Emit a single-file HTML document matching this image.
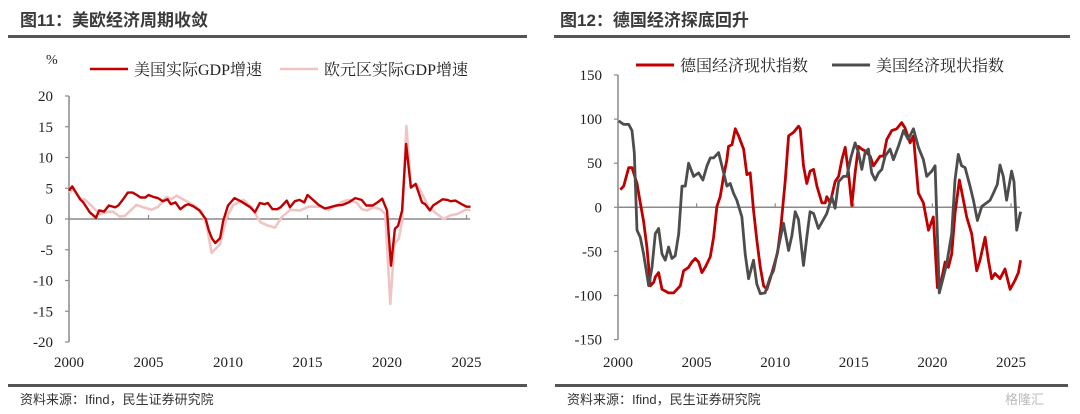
<!DOCTYPE html>
<html><head><meta charset="utf-8">
<style>
html,body{margin:0;padding:0;background:#fff;}
body{width:1080px;height:414px;position:relative;overflow:hidden;font-family:"Liberation Sans","Noto Sans CJK SC",sans-serif;}
.title{position:absolute;top:6px;font-size:17px;font-weight:bold;color:#3a3a3a;font-family:"Liberation Sans","Noto Sans CJK SC",sans-serif;}
.rule{position:absolute;height:3px;background:#555;}
.src{position:absolute;top:389px;font-size:13px;color:#333;}
svg{position:absolute;left:0;top:0;}
svg text{font-family:"Liberation Serif","Noto Serif CJK SC",serif;fill:#222;}
</style></head>
<body>
<div class="title" style="left:20px;">图11：美欧经济周期收敛</div>
<div class="rule" style="left:8px;width:519px;top:35px;"></div>
<div class="title" style="left:560px;">图12：德国经济探底回升</div>
<div class="rule" style="left:554px;width:516px;top:35px;"></div>
<div class="rule" style="left:8px;width:519px;top:384px;"></div>
<div class="rule" style="left:555px;width:513px;top:384px;"></div>
<div class="src" style="left:20px;">资料来源：Ifind，民生证券研究院</div>
<div class="src" style="left:567px;">资料来源：Ifind，民生证券研究院</div>
<div class="src" style="left:1005px;color:#bbb;">格隆汇</div>
<svg id="chart" width="1080" height="414"></svg>
<script>
const usGdpYears=[0,0.2,0.7,0.9,1.3,1.7,1.9,2.2,2.5,2.9,3.1,3.4,3.7,4.0,4.2,4.5,4.8,5.0,5.3,5.6,5.9,6.2,6.4,6.7,7.0,7.3,7.5,7.8,8.2,8.6,8.8,9.0,9.2,9.5,9.7,10.0,10.4,10.8,11.1,11.4,11.7,12.0,12.3,12.5,12.8,13.1,13.3,13.7,13.9,14.2,14.5,14.8,15.0,15.4,15.7,16.1,16.4,16.8,17.2,17.6,18.0,18.4,18.7,19.1,19.4,19.7,20.0,20.25,20.5,20.7,20.95,21.2,21.5,21.8,22.2,22.4,22.7,22.9,23.5,23.8,24.0,24.3,24.7,25.0,25.25];
const usGdp=[4.6,5.3,3.2,2.7,1.1,0.2,1.4,1.2,2.2,1.9,2.2,3.2,4.3,4.3,4.0,3.5,3.5,3.9,3.6,3.4,2.9,3.2,2.4,2.7,1.6,2.2,2.4,2.1,1.4,0,-1.9,-3.2,-3.9,-3.1,-0.3,2.2,3.4,2.9,2.4,1.9,1.1,2.6,2.4,2.6,1.6,1.6,1.9,3.0,1.9,2.9,3.1,2.7,3.9,3.0,2.3,1.7,1.9,2.2,2.3,2.7,3.4,3.1,2.2,2.2,2.7,3.3,1.4,-7.6,-1.6,-1.1,1.4,12.2,5.1,5.7,2.7,2.4,1.4,2.2,3.2,3.1,2.9,3.0,2.4,2.0,2.0];
const euGdpYears=[0,0.29,0.78,0.99,1.51,1.93,2.35,2.77,3.19,3.51,4.24,4.66,5.19,5.61,6.13,6.45,6.76,7.39,7.92,8.34,8.66,8.97,9.5,9.92,10.34,10.97,11.49,12.02,12.44,12.96,13.38,13.91,14.54,15.06,15.8,16.32,16.85,17.27,17.69,18.11,18.42,18.74,19.16,19.58,19.89,20.21,20.46,20.74,20.95,21.22,21.51,21.89,22.21,22.63,23.15,23.57,23.99,24.41,24.94,25.25];
const euGdp=[4.3,4.8,3.1,3.2,1.9,0.8,1.1,1.2,0.4,0.5,2.3,1.9,1.5,2.0,3.6,3.2,3.8,2.9,2.1,1.2,-1.1,-5.5,-4.1,0.3,2.3,3.1,1.9,-0.5,-1.0,-1.4,0.3,1.5,1.4,2.0,2.0,1.5,2.2,2.9,3.1,2.6,1.6,1.4,1.9,1.6,0.8,-13.8,-4.1,-3.2,-0.3,15.1,5.1,5.6,4.1,1.9,0.8,0,0.6,0.8,1.5,1.5];
const leftYTicks=[20,15,10,5,0,-5,-10,-15,-20];
const xTickYears=[2000,2005,2010,2015,2020,2025];
const deYears=[0.15,0.36,0.68,0.89,1.21,1.42,1.63,1.84,2.06,2.27,2.37,2.58,2.80,3.22,3.54,3.75,3.96,4.17,4.49,4.70,4.92,5.13,5.34,5.55,5.87,6.08,6.29,6.50,6.72,6.93,7.03,7.25,7.46,7.67,7.99,8.20,8.41,8.62,8.83,9.05,9.26,9.47,9.68,9.89,10.15,10.36,10.64,10.85,11.17,11.48,11.59,11.80,12.01,12.22,12.44,12.65,12.97,13.18,13.28,13.50,13.81,14.03,14.24,14.45,14.66,14.87,15.08,15.30,15.51,15.72,16.04,16.25,16.67,16.89,17.10,17.42,17.73,18.05,18.26,18.58,18.79,19.11,19.43,19.75,20.06,20.32,20.59,20.81,21.02,21.23,21.44,21.72,21.97,22.18,22.50,22.82,23.03,23.35,23.56,23.77,23.98,24.30,24.62,24.94,25.25,25.47,25.61];
const deIndex=[20,24,45,45,27,5,-16,-45,-89,-85,-79,-74,-93,-97,-97,-93,-89,-72,-68,-62,-58,-62,-74,-68,-56,-34,1,12,35,54,69,71,89,81,66,37,39,-3,-37,-68,-89,-93,-81,-68,-51,-22,31,81,85,92,89,47,27,41,43,24,5,5,12,5,29,35,54,68,39,2,39,69,66,64,58,47,58,58,77,87,89,96,90,73,81,16,5,-26,-11,-91,-81,-62,-68,-53,-7,31,8,-11,-30,-72,-60,-34,-60,-81,-75,-81,-70,-93,-83,-74,-60];
const usIdxYears=[0.04,0.36,0.68,0.89,1.04,1.21,1.42,1.63,1.95,2.16,2.37,2.58,2.80,3.01,3.22,3.43,3.64,3.86,4.07,4.28,4.49,4.81,5.13,5.40,5.66,5.87,6.08,6.40,6.61,6.93,7.14,7.35,7.56,7.88,8.09,8.31,8.62,8.83,9.05,9.36,9.68,9.89,10.21,10.53,10.85,11.06,11.27,11.48,11.80,12.01,12.22,12.44,12.75,13.28,13.60,13.81,14.03,14.34,14.56,14.81,15.08,15.30,15.51,15.72,15.93,16.14,16.36,16.57,16.78,16.99,17.31,17.52,17.84,18.16,18.47,18.79,19.11,19.43,19.64,19.96,20.17,20.44,20.70,20.91,21.23,21.44,21.65,21.86,22.08,22.39,22.61,22.86,23.14,23.45,23.67,23.88,24.13,24.30,24.51,24.72,25.04,25.19,25.36,25.61];
const usIndex=[98,94,94,87,62,-26,-34,-53,-89,-68,-30,-24,-53,-60,-45,-58,-55,-30,24,24,50,35,39,31,47,56,56,62,47,24,27,16,8,-11,-53,-81,-60,-87,-98,-97,-79,-72,-45,-18,-49,-32,-5,-14,-66,-34,-5,-7,-24,-7,12,-1,29,35,35,56,73,62,43,62,66,39,31,39,43,58,66,54,69,87,77,89,68,54,35,41,47,-97,-79,-64,-30,31,60,47,45,24,8,-15,1,5,8,16,26,48,35,8,41,29,-26,-5];
const rightYTicks=[150,100,50,0,-50,-100,-150];

const svg=document.getElementById('chart');
const NS='http://www.w3.org/2000/svg';
function mk(tag,attrs){const e=document.createElementNS(NS,tag);for(const k in attrs)e.setAttribute(k,attrs[k]);svg.appendChild(e);return e;}

// left axes
const lx=y=>69+(y)*15.9;
const ly=v=>219-v*6.15;
const rx=y=>618+(y)*15.72;
const ry=v=>207.3-v*0.882;

function drawAxes(prefix,xf,yf,ticks,x0,yTop,yBot,xEnd,fmtX){
  const ax=mk('line',{x1:x0,y1:yf(ticks[0]),x2:x0,y2:yf(ticks[ticks.length-1]),stroke:'#8a8a8a','stroke-width':1.5});
  
  
  const zx=mk('line',{x1:x0,y1:yf(0),x2:xEnd,y2:yf(0),stroke:'#8a8a8a','stroke-width':1.5});
  
  
  ticks.forEach(t=>{
    const l=mk('line',{x1:x0-4,y1:yf(t),x2:x0,y2:yf(t),stroke:'#8a8a8a','stroke-width':1.2});
    
    
    const tx=mk('text',{x:x0-16,y:yf(t)+5,'text-anchor':'end','font-size':15});
    
    
    tx.textContent=t;
  });
  xTickYears.forEach(yr=>{
    const px=xf(yr-2000);
    const l=mk('line',{x1:px,y1:yf(0)-4,x2:px,y2:yf(0),stroke:'#8a8a8a','stroke-width':1.2});
    
    
    const tx=mk('text',{x:px,y:367,'text-anchor':'middle','font-size':15});
    
    
    tx.textContent=yr;
  });
}
function drawLine(name,xs,vs,xf,yf,color,w){
  const d=xs.map((x,i)=>(i?'L':'M')+xf(x).toFixed(1)+','+yf(vs[i]).toFixed(1)).join(' ');
  const p=mk('path',{d:d,fill:'none',stroke:color,'stroke-width':w,'stroke-linejoin':'round'});
  
  
}
function legend(name,x,y,color,w,label){
  const l=mk('line',{x1:x,y1:y,x2:x+38,y2:y,stroke:color,'stroke-width':w});
  
  
  const t=mk('text',{x:x+44,y:y+6,'font-size':16});
  
  
  t.textContent=label;
}

drawAxes('left',lx,ly,leftYTicks,69,96,342,470);
const pc=mk('text',{x:46,y:64,'font-size':14});


pc.textContent='%';
drawLine('eurozone-gdp-line',euGdpYears,euGdp,lx,ly,'#f0c4c4',2.6);
drawLine('us-gdp-line',usGdpYears,usGdp,lx,ly,'#c00000',2.4);
legend('legend-us-gdp',90,69,'#c00000',2.5,'美国实际GDP增速');
legend('legend-eurozone-gdp',280,69,'#f0c4c4',2.5,'欧元区实际GDP增速');

drawAxes('right',rx,ry,rightYTicks,618,75,340,1020);
drawLine('germany-index-line',deYears,deIndex,rx,ry,'#c00000',2.8);
drawLine('us-index-line',usIdxYears,usIndex,rx,ry,'#4d4d4d',2.8);
legend('legend-germany-index',636,65,'#c00000',3,'德国经济现状指数');
legend('legend-us-index',832,65,'#4d4d4d',3,'美国经济现状指数');
</script>
</body></html>
